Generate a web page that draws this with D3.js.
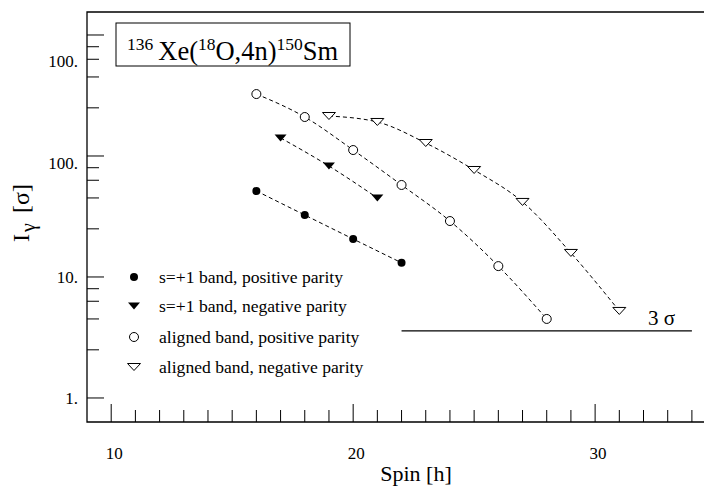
<!DOCTYPE html>
<html>
<head>
<meta charset="UTF-8">
<title>150Sm band intensities</title>
<script src="https://d3js.org/d3.v7.min.js"></script>
<style>
  body { margin: 0; background: #fff; }
  svg { font-family: "Liberation Serif", "DejaVu Serif", serif; }
</style>
</head>
<body>
<svg id="chart" width="704" height="499"></svg>
<script>
    // data (spin, intensity in sigma)
    const s1PosSpin = [16, 18, 20, 22];
    const s1PosI    = [51.4, 32.5, 20.6, 13.1];
    const s1NegSpin = [17, 19, 21];
    const s1NegI    = [141, 82.6, 45.0];
    const alPosSpin = [16, 18, 20, 22, 24, 26, 28];
    const alPosI    = [325, 210, 112, 57.6, 29.0, 12.3, 4.5];
    const alNegSpin = [19, 21, 23, 25, 27, 29, 31];
    const alNegI    = [214, 191, 128, 76.6, 41.7, 15.8, 5.24];

    const legendLabels = ["s=+1 band, positive parity", "s=+1 band, negative parity",
                          "aligned band, positive parity", "aligned band, negative parity"];

    const sigmaLimit = 3.58;        // the "3 σ" line
    const sigmaSpan = [22, 34];

    const xMajor = [10, 20, 30];
    const xMinor = d3.range(10, 35);
    const yMajor = [1, 10, 100, 1000];
    const yMinorFactors = [2.5, 4.5, 6.3, 8];
    // tick labels as printed on the original (the top one reads "100." too)
    const yLabelVals = [1, 10, 88, 610];
    const yLabelText = ["1.", "10.", "100.", "100."];

    const svg = d3.select("#chart");
    const pLeft = 87, pTop = 12, pRight = 704, pBottom = 422;

    const x = d3.scaleLinear().domain([9, 34.5]).range([pLeft, pRight]);
    const y = d3.scaleLog().domain([0.633, 1549]).range([pBottom, pTop]);

    // frame
    svg.append("path")
        .attr("d", `M${pRight},${pTop}H${pLeft}V${pBottom}H${pRight}`)
        .attr("fill", "none").attr("stroke", "#000").attr("stroke-width", 1.3);

    // x ticks (pointing inward)
    svg.append("g").selectAll("line").data(xMinor).join("line")
        .attr("x1", d => x(d)).attr("x2", d => x(d))
        .attr("y1", pBottom)
        .attr("y2", d => xMajor.includes(d) ? pBottom - 18 : pBottom - 12)
        .attr("stroke", "#000").attr("stroke-width", 1);
    svg.append("g").selectAll("text").data(xMajor).join("text")
        .attr("x", d => x(d) + 3).attr("y", 459)
        .attr("text-anchor", "middle").attr("font-size", 17)
        .text(d => d);

    // y ticks
    const yMinor = [];
    yMajor.slice(0, 3).forEach(dec => yMinorFactors.forEach(f => yMinor.push(dec * f)));
    svg.append("g").selectAll("line").data(yMajor).join("line")
        .attr("x1", pLeft).attr("x2", pLeft + 17)
        .attr("y1", d => y(d)).attr("y2", d => y(d))
        .attr("stroke", "#000").attr("stroke-width", 1);
    svg.append("g").selectAll("line").data(yMinor).join("line")
        .attr("x1", pLeft).attr("x2", pLeft + 12)
        .attr("y1", d => y(d)).attr("y2", d => y(d))
        .attr("stroke", "#000").attr("stroke-width", 1);
    svg.append("g").selectAll("text").data(yLabelVals).join("text")
        .attr("x", 78).attr("y", d => y(d) + 6)
        .attr("text-anchor", "end").attr("font-size", 17)
        .text((d, i) => yLabelText[i]);

    // axis titles
    svg.append("text")
        .attr("x", 416).attr("y", 481)
        .attr("text-anchor", "middle").attr("font-size", 22)
        .text("Spin [h]");
    const yt = svg.append("text")
        .attr("transform", "translate(29,213) rotate(-90)")
        .attr("text-anchor", "middle").attr("font-size", 24);
    yt.append("tspan").text("I");
    yt.append("tspan").attr("dy", 6).attr("dx", 2).attr("font-size", 20).text("γ");
    yt.append("tspan").attr("dy", -6).attr("dx", 4).text(" [σ]");

    // reaction label
    svg.append("rect")
        .attr("x", 116).attr("y", 23).attr("width", 234).attr("height", 43)
        .attr("fill", "none").attr("stroke", "#000").attr("stroke-width", 1);
    const tt = svg.append("text").attr("x", 127).attr("y", 60).attr("font-size", 26.5);
    tt.append("tspan").attr("font-size", 17.5).attr("dy", -10).text("136");
    tt.append("tspan").attr("dy", 10).attr("dx", 5).text("Xe(");
    tt.append("tspan").attr("font-size", 17.5).attr("dy", -10).text("18");
    tt.append("tspan").attr("dy", 10).text("O,4n)");
    tt.append("tspan").attr("font-size", 17.5).attr("dy", -10).text("150");
    tt.append("tspan").attr("dy", 10).text("Sm");

    // 3 sigma line
    svg.append("line")
        .attr("x1", x(sigmaSpan[0])).attr("x2", x(sigmaSpan[1]))
        .attr("y1", y(sigmaLimit)).attr("y2", y(sigmaLimit))
        .attr("stroke", "#000").attr("stroke-width", 1.2);
    svg.append("text")
        .attr("x", 648).attr("y", y(sigmaLimit) - 6)
        .attr("font-size", 21).text("3 σ");

    // markers
    const tri = (w, h) => `M${-w / 2},${-h / 2}L${w / 2},${-h / 2}L0,${h / 2}Z`;
    const drawMark = (g, kind) => {
        if (kind === 0) g.append("circle").attr("r", 4).attr("fill", "#000");
        if (kind === 1) g.append("path").attr("d", tri(12, 7)).attr("fill", "#000");
        if (kind === 2) g.append("circle").attr("r", 4.5).attr("fill", "#fff")
            .attr("stroke", "#000").attr("stroke-width", 1);
        if (kind === 3) g.append("path").attr("d", tri(13, 7)).attr("fill", "#fff")
            .attr("stroke", "#000").attr("stroke-width", 1);
    };

    const series = [
        [s1PosSpin, s1PosI], [s1NegSpin, s1NegI],
        [alPosSpin, alPosI], [alNegSpin, alNegI]
    ];
    const line = d3.line().x(d => x(d[0])).y(d => y(d[1])).curve(d3.curveMonotoneX);

    series.forEach(([sp, iv], k) => {
        const pts = sp.map((s, i) => [s, iv[i]]);
        svg.append("path").datum(pts)
            .attr("d", line)
            .attr("fill", "none").attr("stroke", "#000")
            .attr("stroke-width", 1).attr("stroke-dasharray", "4,3");
        pts.forEach(p => {
            const g = svg.append("g").attr("transform", `translate(${x(p[0])},${y(p[1])})`);
            drawMark(g, k);
        });
    });

    // legend
    const legY = [277, 306, 337, 367];
    legendLabels.forEach((lab, k) => {
        const g = svg.append("g").attr("transform", `translate(134,${legY[k]})`);
        drawMark(g, k);
        svg.append("text").attr("x", 159).attr("y", legY[k] + 6)
            .attr("font-size", 17.6).text(lab);
    });
</script>
</body>
</html>
